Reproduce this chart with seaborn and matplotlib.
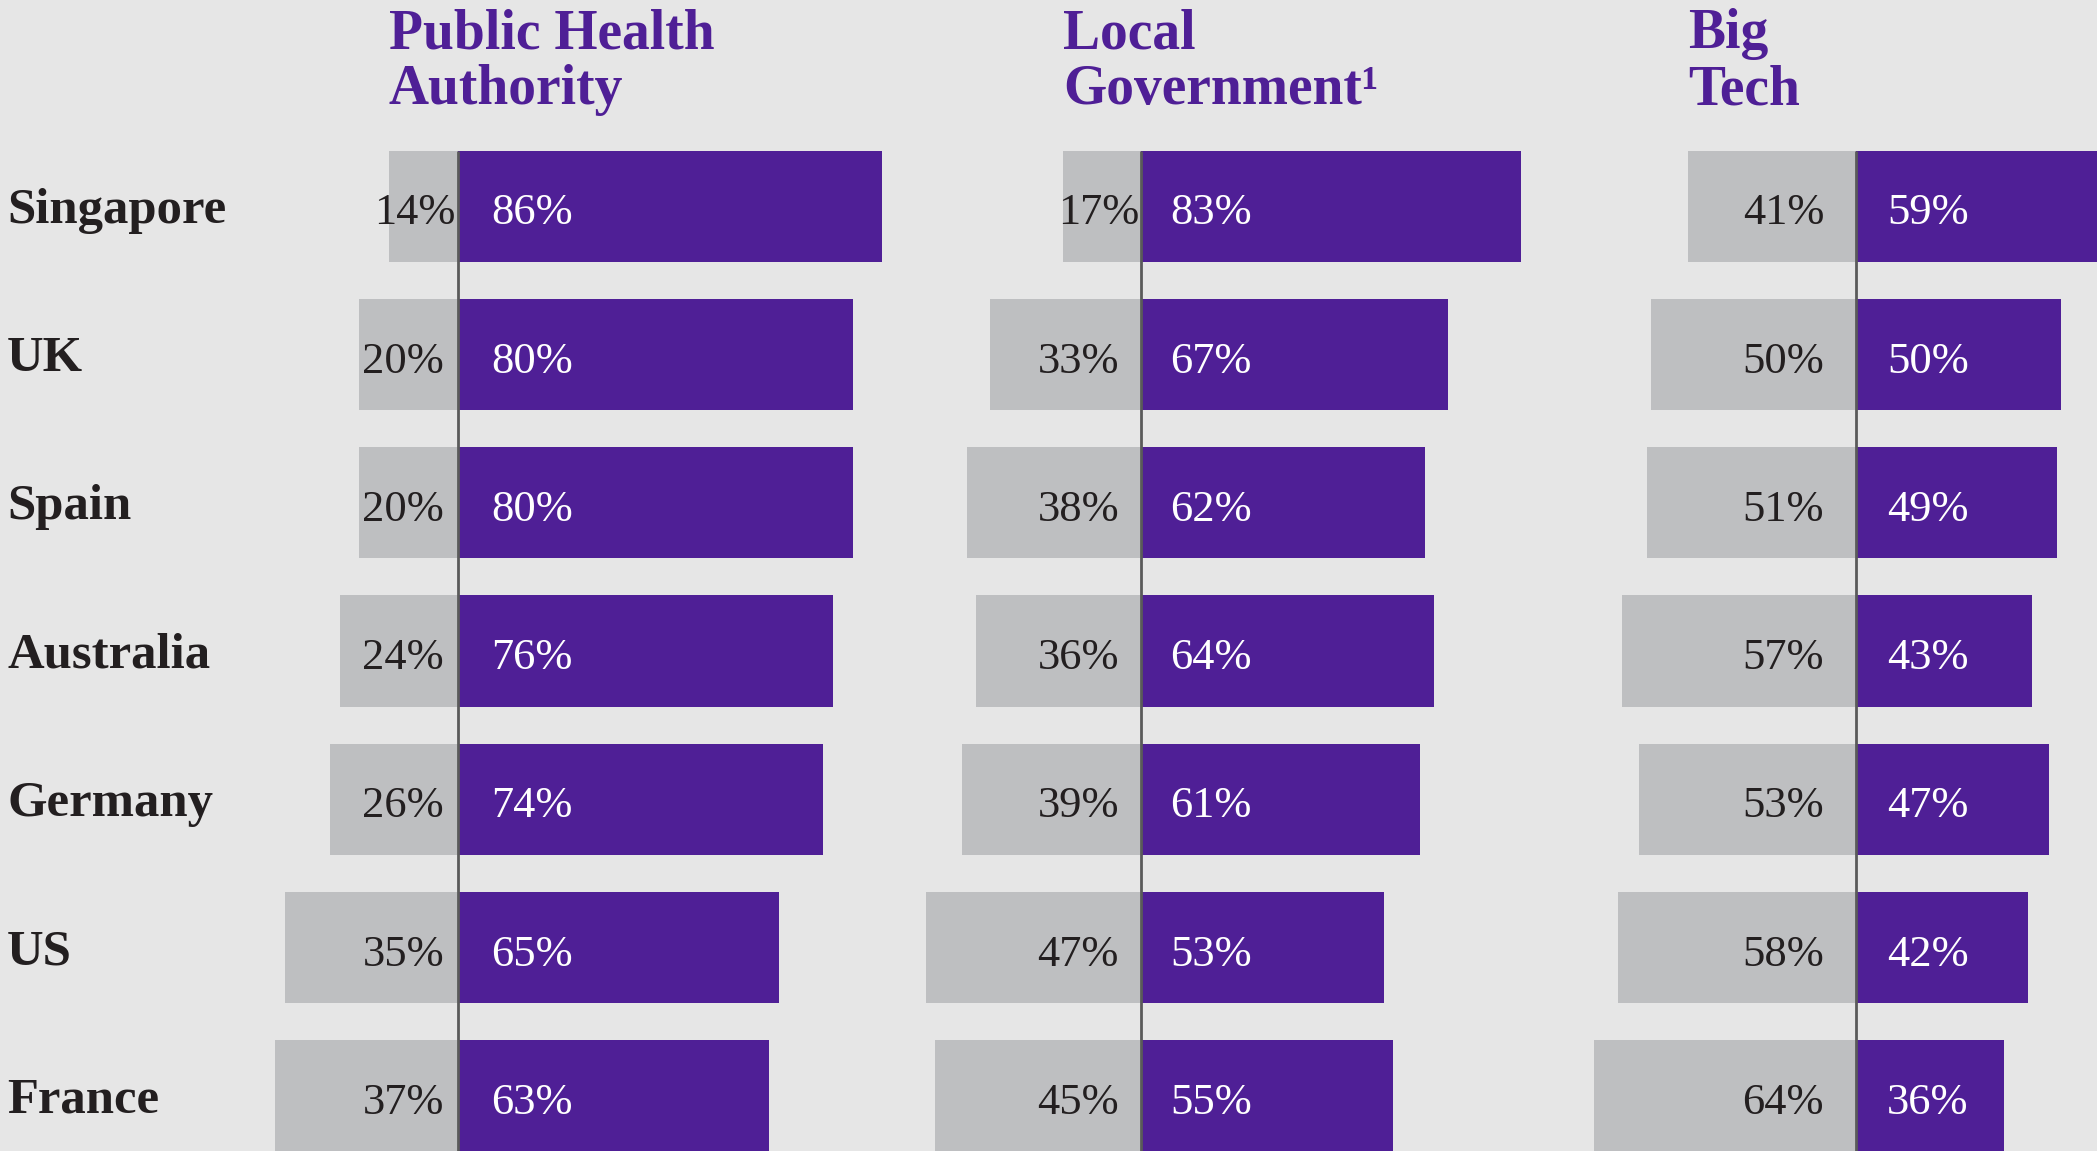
import matplotlib
matplotlib.use('Agg')
import matplotlib.pyplot as plt
import matplotlib.transforms as mtransforms
import seaborn as sns

# 데이터
countries = ['Singapore', 'UK', 'Spain', 'Australia', 'Germany', 'US', 'France']
titles = ['Public Health\nAuthority', 'Local\nGovernment\u00b9', 'Big\nTech']
pha_yes = [86, 80, 80, 76, 74, 65, 63]
pha_no = [14, 20, 20, 24, 26, 35, 37]
lg_yes = [83, 67, 62, 64, 61, 53, 55]
lg_no = [17, 33, 38, 36, 39, 47, 45]
bt_yes = [59, 50, 49, 43, 47, 42, 36]
bt_no = [41, 50, 51, 57, 53, 58, 64]

sns.set_style('white')
plt.rcParams['font.family'] = ['Liberation Serif', 'DejaVu Serif']

BG = '#E6E6E6'
GRAY = '#BEBFC1'
PURPLE = '#4F1F96'

W, H = 2097, 1151
fig = plt.figure(figsize=(W / 100, (H + 0.4) / 100), dpi=100, facecolor=BG)

# 패널 배치 (중심선 px, %당 px, 회색 라벨 간격, 보라 라벨 간격)
panels = [
    (titles[0], pha_no, pha_yes, 458, 4.935, 14, 33),
    (titles[1], lg_no, lg_yes, 1141, 4.58, 22, 29),
    (titles[2], bt_no, bt_yes, 1856, 4.10, 32, 31),
]

row_px = 148.2
first_center = 206.6
y_top = -first_center / row_px
y_bot = (H - first_center) / row_px

for title, no, yes, cx, scale, goff, poff in panels:
    ax = fig.add_axes([0, 0, 1, 1])
    ax.patch.set_alpha(0)
    sns.barplot(x=[-v for v in no], y=countries, orient='h', color=GRAY,
                width=0.75, saturation=1, linewidth=0, edgecolor='none', ax=ax)
    sns.barplot(x=yes, y=countries, orient='h', color=PURPLE,
                width=0.75, saturation=1, linewidth=0, edgecolor='none', ax=ax)
    ax.set_xlim(-cx / scale, (W - cx) / scale)
    ax.set_ylim(y_bot, y_top)
    ax.axis('off')
    ax.vlines(0, -0.375, y_bot, color='#5A5A5A', lw=2, zorder=5)

    for i in range(len(countries)):
        off = -2 if no[i] < 20 else -goff
        tr = mtransforms.offset_copy(ax.transData, fig=fig, x=off, y=0, units='dots')
        ax.text(0, i + 0.12, f'{no[i]}%', transform=tr, ha='right', va='baseline',
                fontsize=32, color='#231F20', zorder=6)
        tr = mtransforms.offset_copy(ax.transData, fig=fig, x=poff, y=0, units='dots')
        ax.text(0, i + 0.12, f'{yes[i]}%', transform=tr, ha='left', va='baseline',
                fontsize=32, color='white', zorder=6)

    # 제목 (맨 위 회색 막대 왼쪽에 맞춤)
    tt = mtransforms.blended_transform_factory(ax.transData, fig.transFigure)
    for k, line in enumerate(title.split('\n')):
        ax.text(-no[0], 1 - (48 + k * 56) / H, line, transform=tt,
                ha='left', va='baseline', fontsize=40, fontweight='bold',
                color=PURPLE)

# 국가 라벨
ax0 = fig.axes[0]
tl = mtransforms.blended_transform_factory(fig.transFigure, ax0.transData)
for i, c in enumerate(countries):
    ax0.text(7 / W, i + 0.11, c, transform=tl, ha='left', va='baseline',
             fontsize=36.5, fontweight='bold', color='#231F20')

fig.savefig('out.png', dpi=100, facecolor=BG)
